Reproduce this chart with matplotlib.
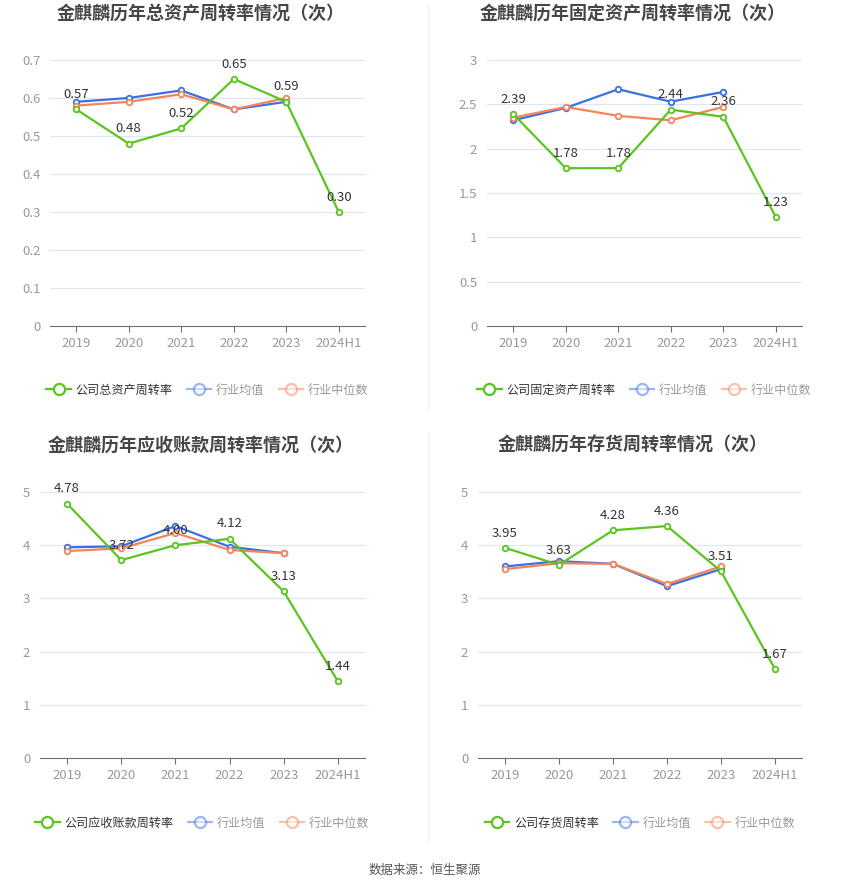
import matplotlib
matplotlib.use("Agg")
import matplotlib.pyplot as plt
from matplotlib.lines import Line2D

plt.rcParams['font.family'] = ['Noto Sans CJK SC', 'DejaVu Sans']

years = ['2019', '2020', '2021', '2022', '2023', '2024H1']

# 总资产周转率
total_company = [0.57, 0.48, 0.52, 0.65, 0.59, 0.30]
total_mean = [0.59, 0.60, 0.62, 0.57, 0.59]
total_median = [0.58, 0.59, 0.61, 0.57, 0.60]

# 固定资产周转率
fixed_company = [2.39, 1.78, 1.78, 2.44, 2.36, 1.23]
fixed_mean = [2.32, 2.46, 2.67, 2.53, 2.64]
fixed_median = [2.35, 2.47, 2.37, 2.32, 2.47]

# 应收账款周转率
recv_company = [4.78, 3.72, 4.00, 4.12, 3.13, 1.44]
recv_mean = [3.96, 3.98, 4.36, 3.97, 3.85]
recv_median = [3.89, 3.94, 4.23, 3.91, 3.85]

# 存货周转率
inv_company = [3.95, 3.63, 4.28, 4.36, 3.51, 1.67]
inv_mean = [3.60, 3.70, 3.65, 3.23, 3.55]
inv_median = [3.55, 3.66, 3.65, 3.27, 3.60]

GREEN = '#5bc421'
BLUE = '#3a70e0'
ORANGE = '#f5845c'

W, H = 850, 891
fig = plt.figure(figsize=(W / 100, H / 100), dpi=100)


def px_axes(x0, y0, x1, y1):
    # pixel box (top-left origin) -> figure fraction
    return fig.add_axes([x0 / W, 1 - y1 / H, (x1 - x0) / W, (y1 - y0) / H])


def panel(box, title, title_x, title_y, comp, mean, med, ymax, ystep, yfmt,
          comp_name, legend_y):
    ax = px_axes(*box)
    n = len(years)
    xs = list(range(n))
    ax.set_xlim(-0.5, n - 0.5)
    ax.set_ylim(0, ymax)
    ticks = [i * ystep for i in range(int(round(ymax / ystep)) + 1)]
    ax.set_yticks(ticks)
    ax.set_yticklabels([yfmt(t) for t in ticks])
    ax.set_xticks(xs)
    ax.set_xticklabels(years)
    ax.tick_params(axis='y', length=0, labelsize=9.5, labelcolor='#999999', pad=7)
    ax.tick_params(axis='x', length=4, color='#6e7079', labelsize=9.5,
                   labelcolor='#999999', pad=4)
    for s in ['top', 'right', 'left']:
        ax.spines[s].set_visible(False)
    ax.spines['bottom'].set_color('#6e7079')
    ax.grid(axis='y', color='#e0e6f1', linewidth=0.8)
    ax.set_axisbelow(True)

    mk = dict(marker='o', markersize=4, markerfacecolor='white', markeredgewidth=1.3)
    ax.plot(xs[:len(mean)], mean, color=BLUE, linewidth=1.6, markeredgecolor=BLUE, **mk, zorder=3)
    ax.plot(xs[:len(med)], med, color=ORANGE, linewidth=1.6, markeredgecolor=ORANGE, **mk, zorder=3)
    ax.plot(xs, comp, color=GREEN, linewidth=1.6, markeredgecolor=GREEN, **mk, zorder=4)
    for x, v in zip(xs, comp):
        ax.annotate(f'{v:.2f}', (x, v), xytext=(0, 6), textcoords='offset points',
                    ha='center', va='bottom', fontsize=9.5, color='#333333', zorder=5)

    fig.text(title_x / W, 1 - title_y / H, title, ha='center', va='center',
             fontsize=13, fontweight='bold', color='#464646')

    handles = [
        Line2D([], [], color=GREEN, linewidth=1.6, marker='o', markersize=8,
               markerfacecolor='white', markeredgecolor=GREEN, markeredgewidth=1.6),
        Line2D([], [], color=BLUE, alpha=0.5, linewidth=1.6, marker='o', markersize=8,
               markerfacecolor='white', markeredgecolor=BLUE, markeredgewidth=1.6),
        Line2D([], [], color=ORANGE, alpha=0.5, linewidth=1.6, marker='o', markersize=8,
               markerfacecolor='white', markeredgecolor=ORANGE, markeredgewidth=1.6),
    ]
    cx = (box[0] + box[2]) / 2
    leg = fig.legend(handles, [comp_name, '行业均值', '行业中位数'], loc='center',
                     bbox_to_anchor=(cx / W, 1 - legend_y / H), ncol=3, frameon=False,
                     fontsize=8.7, handlelength=2.0, handletextpad=0.4, columnspacing=1.2)
    for i, t in enumerate(leg.get_texts()):
        t.set_color('#333333' if i == 0 else '#999999')
    return ax


def f1(t):
    return '0' if t == 0 else f'{t:.1f}'


def f_half(t):
    return f'{t:g}'


panel((50, 60, 365, 326), '金麒麟历年总资产周转率情况（次）', 201, 13,
      total_company, total_mean, total_median, 0.7, 0.1, f1, '公司总资产周转率', 390)
panel((487, 60, 802, 326), '金麒麟历年固定资产周转率情况（次）', 633, 13,
      fixed_company, fixed_mean, fixed_median, 3, 0.5, f_half, '公司固定资产周转率', 390)
panel((40, 492, 365, 758), '金麒麟历年应收账款周转率情况（次）', 201, 445,
      recv_company, recv_mean, recv_median, 5, 1, f_half, '公司应收账款周转率', 823)
panel((478, 492, 802, 758), '金麒麟历年存货周转率情况（次）', 633, 445,
      inv_company, inv_mean, inv_median, 5, 1, f_half, '公司存货周转率', 823)

# separator
fig.add_artist(Line2D([428 / W, 428 / W], [1 - 5 / H, 1 - 408 / H], color='#f0f0f0', linewidth=1))
fig.add_artist(Line2D([428 / W, 428 / W], [1 - 432 / H, 1 - 840 / H], color='#f0f0f0', linewidth=1))

fig.text(425 / W, 1 - 870 / H, '数据来源：恒生聚源', ha='center', va='center',
         fontsize=9, color='#555555')

fig.savefig('out.png', dpi=100)
